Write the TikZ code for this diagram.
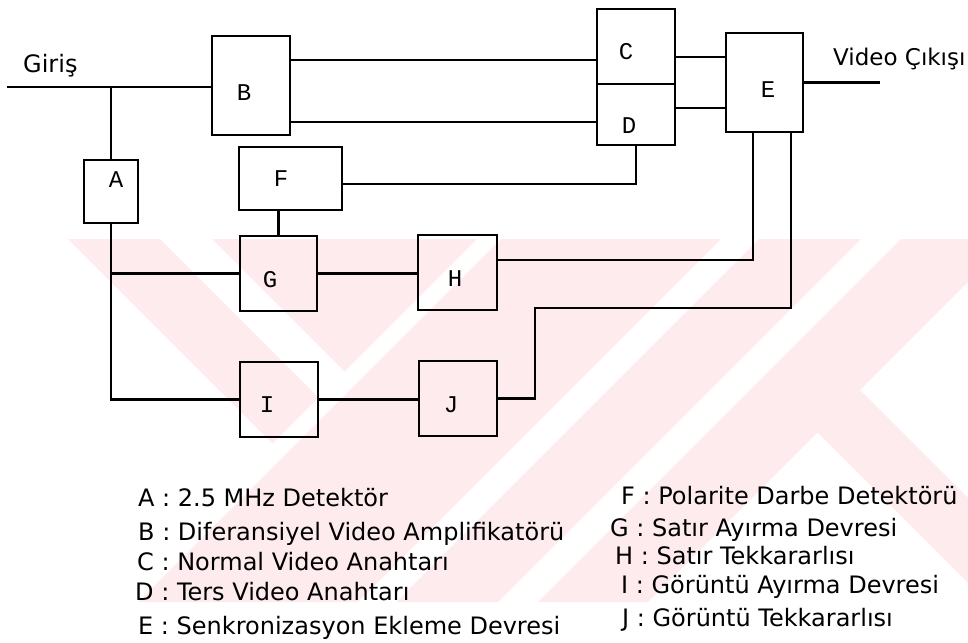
\documentclass[tikz,border=0pt]{standalone}
\usepackage{fontspec}
\setmainfont{DejaVu Sans}
\newfontfamily\boxfont{Liberation Mono}
\begin{document}
\begin{tikzpicture}[x=1pt,y=-1pt,
  box/.style={draw, line width=2.1pt, inner sep=0pt},
  wire/.style={line width=2.1pt},
  wm/.style={fill={rgb,255:red,253;green,235;blue,238}},
  lbl/.style={font=\boxfont\fontsize{24}{24}\selectfont, inner sep=0pt},
  leg/.style={font=\fontsize{24}{28}\selectfont, anchor=base west, inner sep=0pt}]
\useasboundingbox (0,0) rectangle (968,642);
% watermark
\fill[wm] (68,239) -- (160,239) -- (318.5,397.5) -- (272.5,443.5) -- cycle;
\fill[wm] (212,239) -- (477,239) -- (344.5,371.5) -- cycle;
\fill[wm] (501,239) -- (721,239) -- (358,602) -- (138,602) -- cycle;
\fill[wm] (759,239) -- (861,239) -- (498,602) -- (396,602) -- cycle;
\fill[wm] (901,239) -- (968,239) -- (968,282) -- (648,602) -- (538,602) -- cycle;
\fill[wm] (817.5,432.5) -- (860,390) -- (968,498) -- (968,583) -- cycle;
% boxes
\node[box, minimum width=54pt, minimum height=63pt] (A) at (111,191.5) {};
\node[box, minimum width=78pt, minimum height=99pt] (B) at (251,85.5) {};
\node[box, minimum width=78pt, minimum height=75pt] (C) at (636,46.5) {};
\node[box, minimum width=78pt, minimum height=61pt] (D) at (636,114.5) {};
\node[box, minimum width=77pt, minimum height=99pt] (E) at (764.5,82.5) {};
\node[box, minimum width=103pt, minimum height=63pt] (F) at (290.5,178.5) {};
\node[box, minimum width=77pt, minimum height=75pt] (G) at (278.5,273.5) {};
\node[box, minimum width=79pt, minimum height=75pt] (H) at (457.5,272.5) {};
\node[box, minimum width=78pt, minimum height=75pt] (I) at (279,399.5) {};
\node[box, minimum width=78pt, minimum height=75pt] (J) at (458,398.5) {};
% box letters
\node[lbl] (lA) at (116,180) {A};
\node[lbl] (lB) at (244,93) {B};
\node[lbl] (lC) at (626,52) {C};
\node[lbl] (lD) at (629,126) {D};
\node[lbl] (lE) at (768,90) {E};
\node[lbl] (lF) at (281,179) {F};
\node[lbl] (lG) at (270,280) {G};
\node[lbl] (lH) at (455,279) {H};
\node[lbl] (lI) at (267,405) {I};
\node[lbl] (lJ) at (451,405) {J};
% connectors
\coordinate (in) at (7,87);
\coordinate (jA) at (111,87);
\coordinate (out) at (880,81);
\coordinate (bend) at (535,308);
\draw[wire] (in) -- (in -| B.west);
\draw[wire] (jA) -- (A.north);
\draw[wire] (A.south) |- (I.west);
\coordinate (jG) at (A.south |- G.west);
\draw[wire] (jG) -- (G.west);
\draw[wire] ([yshift=25.5pt]B.east) -- ([yshift=25.5pt]B.east -| C.west);
\draw[wire] ([yshift=-36.5pt]B.east) -- ([yshift=-36.5pt]B.east -| D.west);
\draw[wire] ([yshift=-10.5pt]C.east) -- ([yshift=-10.5pt]C.east -| E.west);
\draw[wire] ([yshift=6.5pt]D.east) -- ([yshift=6.5pt]D.east -| E.west);
\draw[wire] (E.east) -- (E.east -| out);
\draw[wire] (D.south) |- ([yshift=-5.5pt]F.east);
\draw[wire] (G.north) -- (G.north |- F.south);
\draw[wire] (G.east) -- (G.east -| H.west);
\draw[wire] ([yshift=12.5pt]H.east) -| ([xshift=-11.5pt]E.south);
\draw[wire] (I.east) -- (I.east -| J.west);
\draw[wire] (J.east) -| (bend) -| ([xshift=26.5pt]E.south);
% texts
\node[leg] (gir) at (23,73) {Giriş};
\node[leg, font=\fontsize{23}{28}\selectfont] (vout) at (833,66) {Video Çıkışı};
\node[leg] (tA) at (138,506) {A : 2.5 MHz Detektör};
\node[leg] (tB) at (138,540) {B : Diferansiyel Video Amplifikatörü};
\node[leg] (tC) at (137,570) {C : Normal Video Anahtarı};
\node[leg] (tD) at (135,600) {D : Ters Video Anahtarı};
\node[leg] (tE) at (138,634) {E : Senkronizasyon Ekleme Devresi};
\node[leg] (tF) at (621,504) {F : Polarite Darbe Detektörü};
\node[leg] (tG) at (610,536) {G : Satır Ayırma Devresi};
\node[leg] (tH) at (615,564) {H : Satır Tekkararlısı};
\node[leg] (tI) at (621,593) {I : Görüntü Ayırma Devresi};
\node[leg] (tJ) at (622,626) {J : Görüntü Tekkararlısı};
\end{tikzpicture}
\end{document}
